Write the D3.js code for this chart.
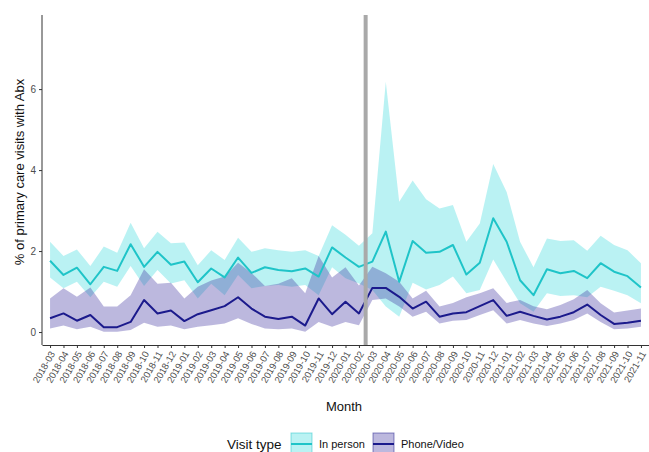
<!DOCTYPE html>
<html>
<head>
<meta charset="utf-8">
<script src="https://cdn.jsdelivr.net/npm/d3@7"></script>
<style>
  body { margin: 0; background: #fff; }
  svg { display: block; font-family: "Liberation Sans", Arial, sans-serif; }
</style>
</head>
<body>
<div id="chart"></div>
<script>
// months 2018-03 .. 2021-11
var months = [
  "2018-03","2018-04","2018-05","2018-06","2018-07","2018-08","2018-09","2018-10","2018-11","2018-12",
  "2019-01","2019-02","2019-03","2019-04","2019-05","2019-06","2019-07","2019-08","2019-09","2019-10","2019-11","2019-12",
  "2020-01","2020-02","2020-03","2020-04","2020-05","2020-06","2020-07","2020-08","2020-09","2020-10","2020-11","2020-12",
  "2021-01","2021-02","2021-03","2021-04","2021-05","2021-06","2021-07","2021-08","2021-09","2021-10","2021-11"
];

var inPerson = [1.76,1.41,1.59,1.18,1.61,1.51,2.17,1.61,1.98,1.66,1.74,1.23,1.57,1.35,1.84,1.46,1.60,1.53,1.50,1.57,1.37,2.09,1.84,1.61,
  1.74,2.48,1.24,2.25,1.96,1.98,2.15,1.42,1.71,2.81,2.23,1.28,0.91,1.55,1.45,1.51,1.33,1.70,1.49,1.38,1.10];
var inPersonHi = [2.23,1.88,2.04,1.63,2.11,1.96,2.70,2.07,2.48,2.19,2.21,1.65,2.02,1.78,2.33,1.98,2.07,2.02,1.98,2.02,1.88,2.64,2.40,2.13,
  2.44,6.18,3.22,3.74,3.28,3.05,3.14,2.23,2.68,4.15,3.46,2.23,1.60,2.31,2.25,2.27,2.01,2.38,2.15,2.02,1.70];
var inPersonLo = [1.35,1.08,1.24,0.86,1.24,1.12,1.63,1.14,1.53,1.20,1.28,0.83,1.19,0.91,1.41,1.08,1.14,1.16,1.12,1.16,0.91,1.60,1.33,1.20,
  1.04,0.63,0.38,1.22,1.05,1.16,1.37,0.96,1.04,1.79,1.24,0.71,0.50,0.96,0.89,0.91,0.86,1.12,1.02,0.91,0.71];

var phone = [0.34,0.46,0.28,0.42,0.12,0.12,0.25,0.79,0.46,0.53,0.27,0.44,0.54,0.64,0.86,0.58,0.38,0.32,0.38,0.16,0.83,0.44,0.75,0.46,
  1.09,1.09,0.87,0.58,0.75,0.38,0.46,0.49,0.64,0.79,0.40,0.50,0.40,0.31,0.38,0.49,0.68,0.42,0.20,0.23,0.28];
var phoneHi = [0.83,1.08,0.87,1.10,0.63,0.63,0.91,1.55,1.19,1.22,0.83,1.12,1.27,1.37,1.71,1.46,1.14,1.19,1.33,0.96,1.88,1.35,1.60,1.15,
  1.61,1.45,1.24,0.83,1.02,0.63,0.72,0.86,0.96,1.08,0.72,0.79,0.64,0.56,0.67,0.81,1.04,0.71,0.48,0.53,0.58];
var phoneLo = [0.09,0.16,0.07,0.13,0.01,0.01,0.05,0.23,0.13,0.16,0.07,0.13,0.17,0.21,0.34,0.20,0.09,0.07,0.09,0.01,0.25,0.13,0.25,0.17,
  0.79,0.83,0.63,0.38,0.50,0.21,0.28,0.30,0.42,0.54,0.21,0.30,0.21,0.15,0.21,0.30,0.46,0.25,0.07,0.09,0.13];

var yTicks = [0, 2, 4, 6];
var breakAfter = "2020-02", breakBefore = "2020-03";

var series = [
  { name: "In person", mid: inPerson, hi: inPersonHi, lo: inPersonLo, line: "#1fc4c8", fill: "#00ced1", op: 0.27 },
  { name: "Phone/Video", mid: phone, hi: phoneHi, lo: phoneLo, line: "#1b1a8c", fill: "#3f35a0", op: 0.35 }
];

(function drawChart() {
  var W = 649, H = 452;
  var pLeft = 42, pRight = 649, pTop = 15, pBottom = 345;

  var svg = d3.select("#chart").append("svg")
    .attr("width", W).attr("height", H);

  var x = d3.scalePoint()
    .domain(months)
    .range([pLeft, pRight])
    .padding(0.6);

  var y = d3.scaleLinear()
    .domain([-0.32, 7.83])
    .range([pBottom, pTop]);

  // ribbons
  series.forEach(function (s) {
    var area = d3.area()
      .x(function (d, i) { return x(months[i]); })
      .y0(function (d, i) { return y(s.lo[i]); })
      .y1(function (d, i) { return y(s.hi[i]); });
    svg.append("path")
      .datum(s.mid)
      .attr("d", area)
      .attr("fill", s.fill)
      .attr("fill-opacity", s.op);
  });

  // lines
  series.forEach(function (s) {
    var line = d3.line()
      .x(function (d, i) { return x(months[i]); })
      .y(function (d) { return y(d); });
    svg.append("path")
      .datum(s.mid)
      .attr("d", line)
      .attr("fill", "none")
      .attr("stroke", s.line)
      .attr("stroke-width", 2)
      .attr("stroke-linejoin", "round");
  });

  // pandemic divider
  var vx = (x(breakAfter) + x(breakBefore)) / 2;
  svg.append("line")
    .attr("x1", vx).attr("x2", vx)
    .attr("y1", pTop).attr("y2", pBottom)
    .attr("stroke", "#a9a9a9")
    .attr("stroke-width", 4);

  // axes
  var gy = svg.append("g")
    .attr("transform", "translate(" + pLeft + ",0)")
    .call(d3.axisLeft(y).tickValues(yTicks).tickSize(3).tickPadding(3).tickSizeOuter(0));
  gy.select(".domain").attr("stroke", "#333").attr("d", "M0," + pTop + "V" + pBottom);
  gy.selectAll(".tick line").attr("stroke", "#333");
  gy.selectAll("text").attr("fill", "#4d4d4d").style("font-size", "10px");

  var gx = svg.append("g")
    .attr("transform", "translate(0," + pBottom + ")")
    .call(d3.axisBottom(x).tickSize(3).tickSizeOuter(0));
  gx.select(".domain").attr("stroke", "#333");
  gx.selectAll(".tick line").attr("stroke", "#333");
  gx.selectAll("text")
    .attr("fill", "#4d4d4d")
    .style("font-size", "9.5px")
    .attr("y", 0)
    .attr("x", 0)
    .attr("dy", "0.35em")
    .attr("transform", "translate(2,7) rotate(-60)")
    .style("text-anchor", "end");

  // axis titles
  svg.append("text")
    .attr("x", 344).attr("y", 411)
    .attr("text-anchor", "middle")
    .style("font-size", "13px")
    .attr("fill", "#111")
    .text("Month");

  svg.append("text")
    .attr("transform", "translate(24,172) rotate(-90)")
    .attr("text-anchor", "middle")
    .style("font-size", "13px")
    .attr("fill", "#111")
    .text("% of primary care visits with Abx");

  // legend
  var lg = svg.append("g");
  lg.append("text")
    .attr("x", 227).attr("y", 449)
    .style("font-size", "13.5px")
    .attr("fill", "#111")
    .text("Visit type");

  var keyX = [291, 373], labX = [319, 401];
  series.forEach(function (s, i) {
    lg.append("rect")
      .attr("x", keyX[i]).attr("y", 433)
      .attr("width", 21).attr("height", 22)
      .attr("fill", s.fill).attr("fill-opacity", s.op)
      .attr("stroke", s.line).attr("stroke-opacity", 0.5);
    lg.append("line")
      .attr("x1", keyX[i]).attr("x2", keyX[i] + 21)
      .attr("y1", 444).attr("y2", 444)
      .attr("stroke", s.line).attr("stroke-width", 2);
    lg.append("text")
      .attr("x", labX[i]).attr("y", 448)
      .style("font-size", "11px")
      .attr("fill", "#111")
      .text(s.name);
  });
})();
</script>
</body>
</html>
